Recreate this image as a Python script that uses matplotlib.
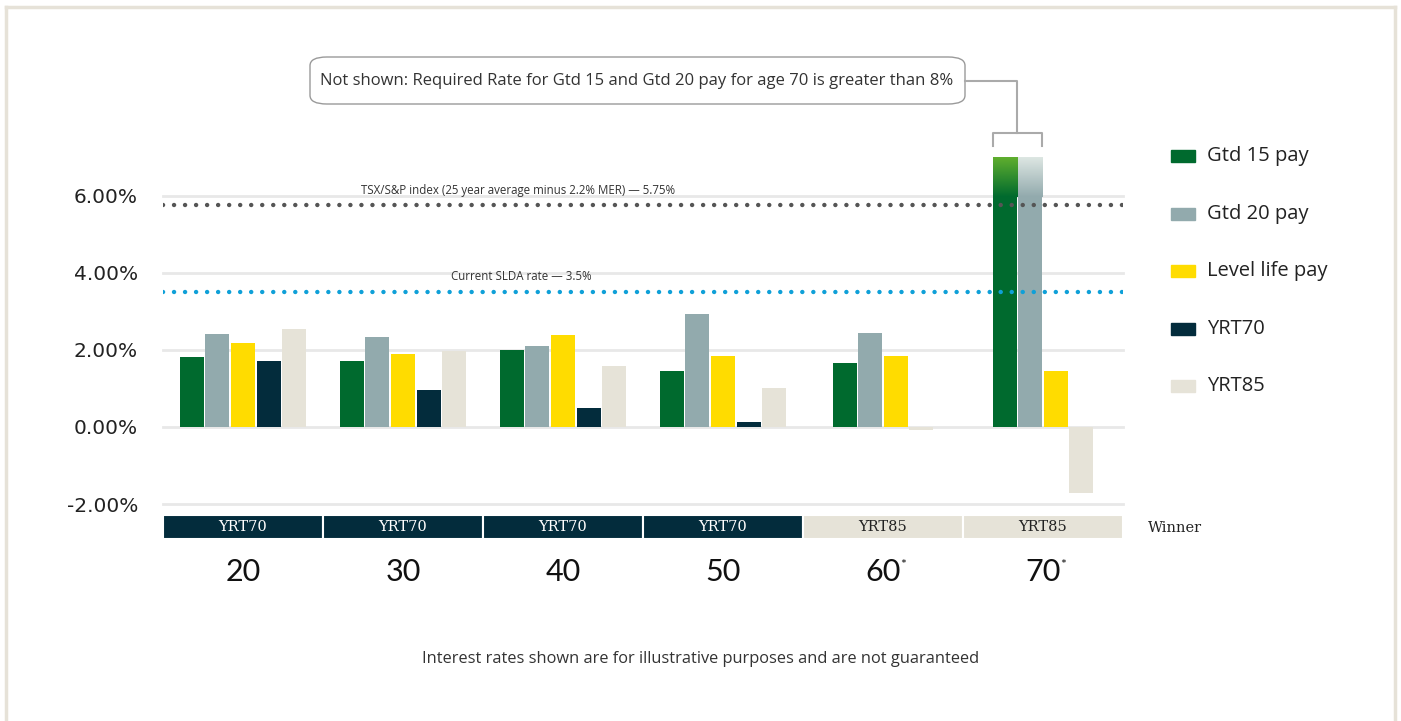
import numpy as np
import matplotlib
matplotlib.use('Agg')
import matplotlib.pyplot as plt
from matplotlib.patches import FancyBboxPatch, Rectangle
from matplotlib.lines import Line2D
from matplotlib.colors import to_rgb

# ---- data ----
ages = ['20', '30', '40', '50', '60', '70']
starred = [False, False, False, False, True, True]
series = ['Gtd 15 pay', 'Gtd 20 pay', 'Level life pay', 'YRT70', 'YRT85']
gtd15 = [1.82, 1.71, 2.00, 1.45, 1.66, 8.0]   # age 70 is "greater than 8%"
gtd20 = [2.42, 2.34, 2.10, 2.93, 2.44, 8.0]
level = [2.18, 1.90, 2.39, 1.84, 1.84, 1.45]
yrt70 = [1.71, 0.96, 0.49, 0.13, None, None]
yrt85 = [2.55, 1.97, 1.58, 1.01, -0.08, -1.71]
winners = ['YRT70', 'YRT70', 'YRT70', 'YRT70', 'YRT85', 'YRT85']
tsx_rate = 5.75
slda_rate = 3.5
yticks = [-2, 0, 2, 4, 6]

colors = ['#006a2e', '#92aaad', '#ffdc00', '#032c3c', '#e6e3d8']
top_colors = ['#62b02e', '#dfe8e4']  # gradient tops for the cut-off bars
win_colors = {'YRT70': '#032c3c', 'YRT85': '#e6e3d8'}
win_text = {'YRT70': 'white', 'YRT85': '#222222'}

W, H = 1401, 721
fig = plt.figure(figsize=(W / 100, H / 100), dpi=100)


def fx(px):
    return px / W


def fy(py):
    return 1 - py / H


# frame
for xs, ys in [([6, 6], [7, 721]), ([6, 1395], [7, 7]), ([1395, 1395], [7, 721])]:
    fig.add_artist(Line2D([fx(v) for v in xs], [fy(v) for v in ys], color='#e6e2d8', lw=2.5))

ax = fig.add_axes([fx(163), fy(504), fx(1123) - fx(163), fy(157) - fy(504)])
ymin, ymax = -2, 7

data = [gtd15, gtd20, level, yrt70, yrt85]
pitch, width = 0.16, 0.15
for g in range(len(ages)):
    present = [s for s in range(len(series)) if data[s][g] is not None]
    n = len(present)
    for k, s in enumerate(present):
        xc = g + (k - (n - 1) / 2) * pitch
        v = data[s][g]
        ax.bar(xc, v, width=width, color=colors[s], zorder=2)
        if v > ymax and s < 2:
            c0 = np.array(to_rgb(top_colors[s]))
            c1 = np.array(to_rgb(colors[s]))
            t = np.linspace(0, 1, 80)[:, None]
            img = (c0 * (1 - t) + c1 * t)[:, None, :]
            ax.imshow(img, extent=[xc - width / 2, xc + width / 2, ymax - 1.05, ymax],
                      aspect='auto', zorder=3, interpolation='bilinear')

ax.axhline(tsx_rate, color='#555555', lw=3.2, linestyle=(0, (0.01, 2.47)),
           dash_capstyle='round', zorder=4)
ax.axhline(slda_rate, color='#0fa0d8', lw=3.2, linestyle=(0, (0.01, 2.47)),
           dash_capstyle='round', zorder=4)

ax.text(1.72, tsx_rate + 0.22, f'TSX/S&P index (25 year average minus 2.2% MER) — {tsx_rate:.2f}%',
        ha='center', va='bottom', fontsize=8.3, family='Open Sans', color='#333333')
ax.text(1.74, slda_rate + 0.22, f'Current SLDA rate — {slda_rate:.1f}%',
        ha='center', va='bottom', fontsize=8.3, family='Open Sans', color='#333333')

ax.set_xlim(-0.5, len(ages) - 0.5)
ax.set_ylim(ymin, ymax)
ax.set_yticks(yticks)
ax.set_yticklabels([f'{v:.2f}%' for v in yticks], family='DejaVu Sans', fontsize=14.5, color='#222222')
ax.set_xticks([])
ax.tick_params(axis='y', length=0, pad=18)
ax.grid(axis='y', color='#e8e8e8', lw=2)
for gl in ax.get_ygridlines():
    gl.set_clip_on(False)
ax.set_axisbelow(True)
for sp in ax.spines.values():
    sp.set_visible(False)

# winner band
ax2 = fig.add_axes([fx(163), fy(539), fx(1123) - fx(163), fy(515) - fy(539)])
xs = np.arange(len(ages))
ax2.bar(xs, 1, width=1, color=[win_colors[w] for w in winners], edgecolor='white', lw=1.5)
for i, w in enumerate(winners):
    ax2.text(i, 0.5, w, ha='center', va='center', family='DejaVu Serif', fontsize=10.5,
             color=win_text[w])
fig.text(fx(1148), fy(528), 'Winner', ha='left', va='center',
         family='DejaVu Serif', fontsize=10.5, color='#222222')
for i, a in enumerate(ages):
    ax2.text(i, -1.38, a, ha='center', va='center', family='Lato', fontsize=22, color='#111111')
    if starred[i]:
        ax2.annotate('*', xy=(i, -1.38), xytext=(12, 5), textcoords='offset points',
                     ha='left', va='center', fontsize=10, color='#111111', family='Lato',
                     annotation_clip=False)
ax2.set_xlim(-0.5, len(ages) - 0.5)
ax2.set_ylim(0, 1)
ax2.axis('off')

# legend
for i, (name, c) in enumerate(zip(series, colors)):
    yc = 156 + i * 57.6
    fig.add_artist(Rectangle((fx(1171), fy(yc + 6)), fx(24), 12 / H, color=c))
    fig.text(fx(1207), fy(yc), name, ha='left', va='center', family='Open Sans',
             fontsize=14.5, color='#222222')

# callout
box = FancyBboxPatch((fx(310), fy(104)), fx(965 - 310), (104 - 57) / H,
                     boxstyle='round,pad=0,rounding_size=0.012', transform=fig.transFigure,
                     facecolor='white', edgecolor='#9a9a9a', lw=1)
fig.add_artist(box)
fig.text(fx(637), fy(81), 'Not shown: Required Rate for Gtd 15 and Gtd 20 pay for age 70 is greater than 8%',
         ha='center', va='center', family='Open Sans', fontsize=12, color='#333333')
lc = '#aaaaaa'
fig.add_artist(Line2D([fx(965), fx(1017), fx(1017)], [fy(81), fy(81), fy(133)], color=lc, lw=1.5))
fig.add_artist(Line2D([fx(993), fx(993), fx(1042), fx(1042)], [fy(146), fy(133), fy(133), fy(146)],
                      color=lc, lw=1.5))

fig.text(fx(701), fy(659), 'Interest rates shown are for illustrative purposes and are not guaranteed',
         ha='center', va='center', family='Open Sans', fontsize=11.8, color='#333333')

fig.savefig('out.png', dpi=100)
